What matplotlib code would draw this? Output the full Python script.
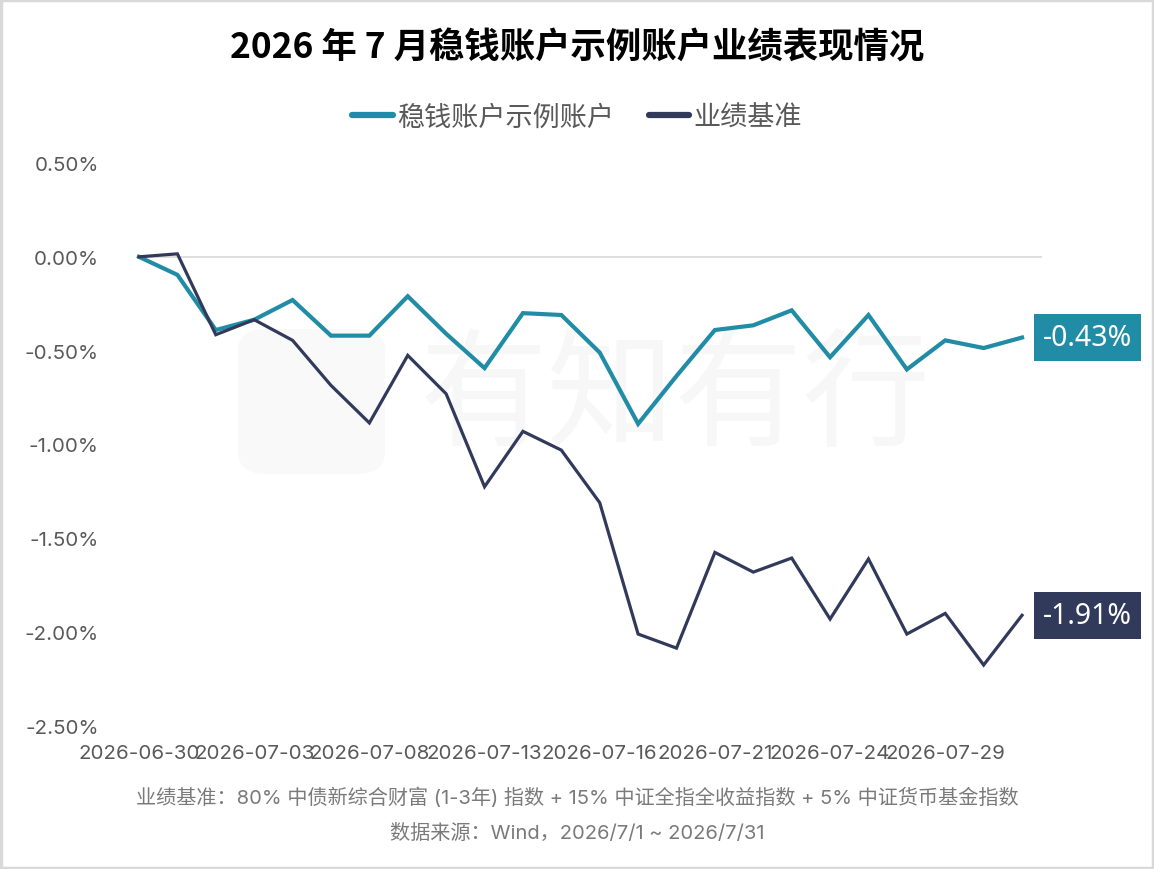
import matplotlib
matplotlib.use("Agg")
import matplotlib.pyplot as plt
from matplotlib.patches import FancyBboxPatch, Rectangle

# ---------------- data ----------------
dates = ["2026-06-30", "2026-07-01", "2026-07-02", "2026-07-03", "2026-07-06",
         "2026-07-07", "2026-07-08", "2026-07-09", "2026-07-10", "2026-07-13",
         "2026-07-14", "2026-07-15", "2026-07-16", "2026-07-17", "2026-07-20",
         "2026-07-21", "2026-07-22", "2026-07-23", "2026-07-24", "2026-07-27",
         "2026-07-28", "2026-07-29", "2026-07-30", "2026-07-31"]
account = [0.00, -0.096, -0.39, -0.335, -0.23, -0.42, -0.42, -0.21, -0.41, -0.593,
           -0.30, -0.31, -0.51, -0.89, -0.635, -0.39, -0.365, -0.285, -0.535, -0.31,
           -0.60, -0.445, -0.486, -0.43]
benchmark = [0.00, 0.016, -0.415, -0.335, -0.445, -0.685, -0.885, -0.525, -0.73, -1.225,
             -0.93, -1.03, -1.31, -2.01, -2.085, -1.575, -1.68, -1.605, -1.93, -1.61,
             -2.01, -1.90, -2.175, -1.91]
series_names = ["稳钱账户示例账户", "业绩基准"]
yticks = [0.5, 0.0, -0.5, -1.0, -1.5, -2.0, -2.5]
title = "2026 年 7 月稳钱账户示例账户业绩表现情况"
note1 = "业绩基准：80% 中债新综合财富 (1-3年) 指数 + 15% 中证全指全收益指数 + 5% 中证货币基金指数"
note2 = "数据来源：Wind，2026/7/1 ~ 2026/7/31"
watermark = "有知有行"

TEAL = "#218CA6"
NAVY = "#323A5C"
GREY = "#595959"

CJK = ["Noto Sans CJK SC", "DejaVu Sans"]
NUM = ["Inter", "Noto Sans CJK SC", "DejaVu Sans"]

W, H = 1154, 870
fig = plt.figure(figsize=(W / 100, H / 100), dpi=100)
fig.patch.set_facecolor("white")

# figure border
fig.patches.append(Rectangle((0.001, 0.001), 0.998, 0.998, transform=fig.transFigure,
                             fill=False, edgecolor="#d9d9d9", linewidth=2.5, zorder=-5))

# watermark (behind the plot)
fig.patches.append(FancyBboxPatch((238 / W, 1 - 475 / H), 147 / W, 145 / H,
                                  boxstyle="round,pad=0,rounding_size=0.025",
                                  transform=fig.transFigure, facecolor="#f9f9f9",
                                  edgecolor="none", zorder=-5))
fig.text(675 / W, 1 - 400 / H, watermark, fontsize=92, color="#f7f7f7",
         family=CJK, fontweight="light", ha="center", va="center", zorder=-5)

ax = fig.add_axes([139 / W, 1 - 727 / H, (1042 - 139) / W, (727 - 164) / H])
ax.set_zorder(2)
ax.set_facecolor("none")
x = list(range(len(dates)))

ax.axhline(0, color="#d9d9d9", linewidth=1.2, zorder=1)
ax.plot(x, account, color=TEAL, linewidth=3.0, label=series_names[0],
        solid_joinstyle="miter", zorder=3, clip_on=False)
ax.plot(x, benchmark, color=NAVY, linewidth=2.3, label=series_names[1],
        solid_joinstyle="miter", zorder=3, clip_on=False)

ax.set_xlim(0, len(dates) - 1 + 0.52)
ax.set_ylim(-2.5, 0.5)
ax.set_yticks(yticks)
ax.set_yticklabels([f"{v:.2f}%" for v in yticks])
ax.set_xticks(x[::3])
ax.set_xticklabels(dates[::3])
for s in ax.spines.values():
    s.set_visible(False)
ax.tick_params(axis="both", length=0, colors=GREY, labelsize=14.8)
ax.tick_params(axis="y", pad=29)
ax.tick_params(axis="x", pad=13)
for lab in ax.get_xticklabels() + ax.get_yticklabels():
    lab.set_family(NUM)
    lab.set_color(GREY)

# end labels
for vals, col in ((account, TEAL), (benchmark, NAVY)):
    ax.annotate(f"{vals[-1]:.2f}%", xy=(x[-1], vals[-1]), xytext=(15, 0),
                textcoords="offset points", ha="left", va="center",
                fontsize=20.5, color="white", family=["Noto Sans", "DejaVu Sans"],
                bbox=dict(boxstyle="square,pad=0.32", facecolor=col, edgecolor="none"),
                annotation_clip=False, zorder=5)

# title
fig.text(0.5, 1 - 48 / H, title, fontsize=25.5, fontweight="bold", color="black",
         family=CJK, ha="center", va="center")

# legend
leg = fig.legend(loc="center", bbox_to_anchor=(0.5, 1 - 118 / H), ncol=2, frameon=False,
                 prop={"family": CJK, "size": 19.5}, handlelength=1.5,
                 handletextpad=0.15, columnspacing=1.3)
for t in leg.get_texts():
    t.set_color(GREY)
for l in leg.get_lines():
    l.set_linewidth(4.5)
    l.set_solid_capstyle("round")

# notes
fig.text(0.5, 1 - 798 / H, note1, fontsize=14.5, color="#7a7a7a", family=NUM,
         ha="center", va="center")
fig.text(0.5, 1 - 833 / H, note2, fontsize=14.5, color="#7a7a7a", family=NUM,
         ha="center", va="center")

fig.savefig("out.png", dpi=100, facecolor="white")
